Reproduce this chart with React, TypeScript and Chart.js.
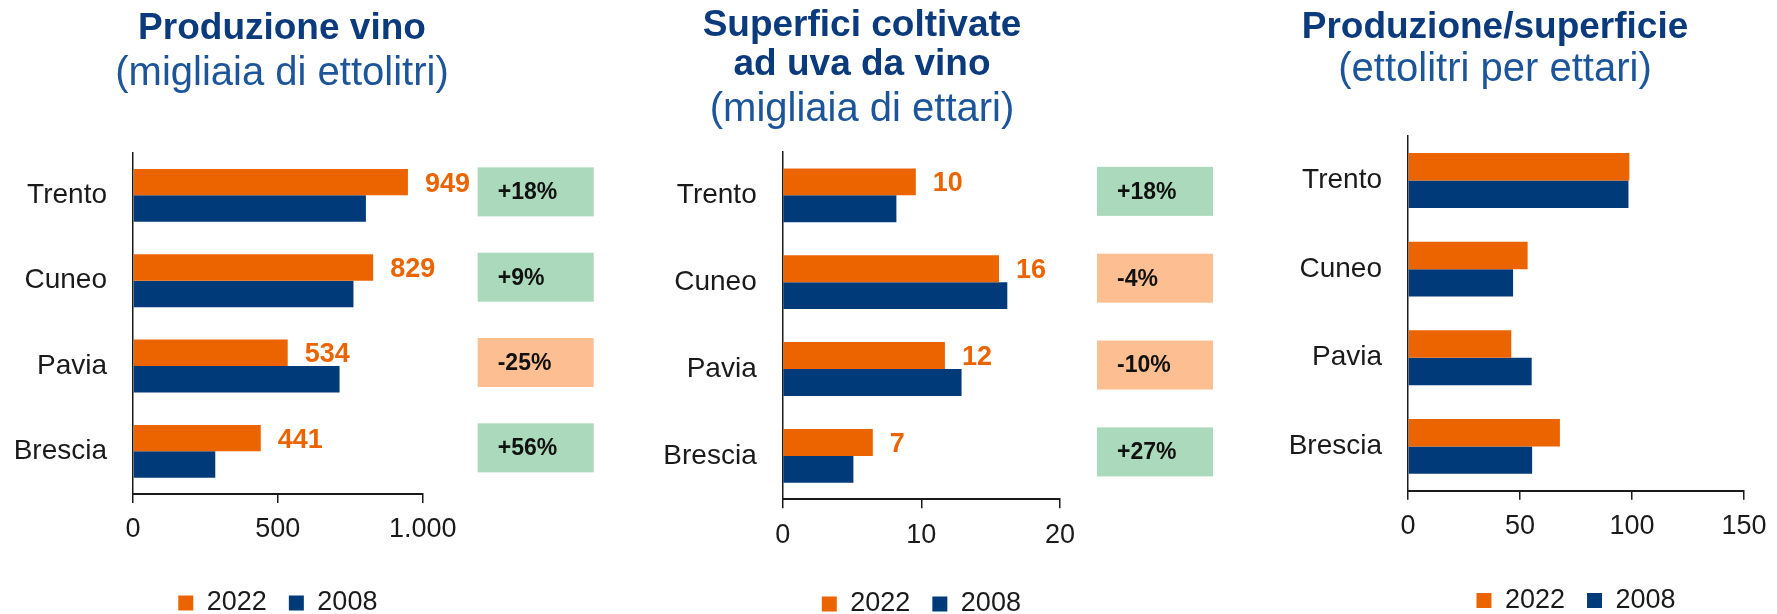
import React, { useEffect, useRef } from 'react';
import { Chart, registerables } from 'chart.js';

Chart.register(...registerables);

// ---------- data ----------
const categories = ['Trento', 'Cuneo', 'Pavia', 'Brescia'];
const seriesNames = ['2022', '2008'];

const prodTitle = ['Produzione vino'];
const prodSubtitle = '(migliaia di ettolitri)';
const prod2022 = [949, 829, 534, 441];
const prod2008 = [804, 761, 713, 284];
const prodChange = ['+18%', '+9%', '-25%', '+56%'];
const prodTicks = [0, 500, 1000];

const areaTitle = ['Superfici coltivate', 'ad uva da vino'];
const areaSubtitle = '(migliaia di ettari)';
const area2022 = [9.6, 15.6, 11.7, 6.5];
const area2008 = [8.2, 16.2, 12.9, 5.1];
const areaChange = ['+18%', '-4%', '-10%', '+27%'];
const areaTicks = [0, 10, 20];

const yieldTitle = ['Produzione/superficie'];
const yieldSubtitle = '(ettolitri per ettari)';
const yield2022 = [98.8, 53.4, 46.1, 67.8];
const yield2008 = [98.4, 46.9, 55.2, 55.4];
const yieldTicks = [0, 50, 100, 150];

// ---------- styles ----------
const FONT = '"Liberation Sans", Arial, sans-serif';
const ORANGE = '#EC6400';
const NAVY = '#003A78';
const TITLE = '#0B3B7C';
const SUBTITLE = '#1D559A';
const TEXT = '#1A1A1A';
const AXIS = '#1A1A1A';
const BOX_POS = '#AAD9BB';
const BOX_NEG = '#FDBF91';

const fmtThousands = (v: number) =>
  String(v).replace(/\B(?=(\d{3})+(?!\d))/g, '.');

const annotPlugin = {
  id: 'annot',
  afterDatasetsDraw(chart: any, _args: any, opts: any) {
    if (!opts || !opts.show) return;
    const ctx = chart.ctx;
    ctx.save();
    ctx.textAlign = 'left';
    ctx.textBaseline = 'middle';
    // value labels for first dataset
    const meta = chart.getDatasetMeta(0);
    ctx.font = `bold 27px ${FONT}`;
    ctx.fillStyle = ORANGE;
    meta.data.forEach((bar: any, i: number) => {
      const v = chart.data.datasets[0].data[i];
      ctx.fillText(String(Math.round(v)), bar.x + 17, bar.y + 2);
    });
    // change boxes
    const yScale = chart.scales.y;
    const changes: string[] = opts.changes || [];
    changes.forEach((c, i) => {
      const cy = yScale.getPixelForValue(i) + opts.boxDy;
      const x0 = chart.chartArea.right + opts.boxDx;
      ctx.fillStyle = c.startsWith('-') ? BOX_NEG : BOX_POS;
      ctx.fillRect(x0, cy - 24.5, 116, 49);
      ctx.fillStyle = '#111111';
      ctx.font = `bold 23px ${FONT}`;
      ctx.fillText(c, x0 + 20, cy + 1);
    });
    ctx.restore();
  },
};

interface PanelSpec {
  left: number;
  width: number;
  height: number;
  title: string[];
  subtitle: string;
  a: number[];
  b: number[];
  ticks: number[];
  yW: number;
  rW: number;
  xH: number;
  tickPad: number;
  padBottom: number;
  titleTop: number;
  subTop: number;
  subBottom: number;
  changes?: string[];
  boxDx?: number;
  boxDy?: number;
}

function Panel({ spec }: { spec: PanelSpec }) {
  const ref = useRef<HTMLCanvasElement | null>(null);
  useEffect(() => {
    if (!ref.current) return;
    const s = spec;
    const chart = new Chart(ref.current, {
      type: 'bar',
      data: {
        labels: categories,
        datasets: [
          {
            label: seriesNames[0],
            data: s.a,
            backgroundColor: ORANGE,
            borderWidth: 0,
            categoryPercentage: 0.62,
            barPercentage: 1,
            xAxisID: 'x',
            yAxisID: 'y',
          },
          {
            label: seriesNames[1],
            data: s.b,
            backgroundColor: NAVY,
            borderWidth: 0,
            categoryPercentage: 0.62,
            barPercentage: 1,
            xAxisID: 'x',
            yAxisID: 'y',
          },
        ],
      },
      options: {
        indexAxis: 'y',
        responsive: false,
        maintainAspectRatio: false,
        animation: false,
        events: [],
        layout: { padding: { left: 0, right: 0, top: 0, bottom: s.padBottom } },
        scales: {
          x: {
            type: 'linear',
            min: s.ticks[0],
            max: s.ticks[s.ticks.length - 1],
            afterBuildTicks: (scale: any) => {
              scale.ticks = s.ticks.map((v) => ({ value: v }));
            },
            ticks: {
              padding: s.tickPad,
              color: TEXT,
              font: { family: FONT, size: 27 },
              callback: (v: any) => fmtThousands(Number(v)),
            },
            grid: {
              drawOnChartArea: false,
              drawTicks: true,
              tickLength: 9,
              color: AXIS,
              lineWidth: 1.5,
            },
            border: { display: true, color: AXIS, width: 2 },
            afterFit: (scale: any) => {
              scale.height = s.xH;
            },
          },
          y: {
            type: 'category',
            position: 'left',
            ticks: { padding: 26, color: TEXT, font: { family: FONT, size: 28 } },
            grid: { display: false, drawTicks: false },
            border: { display: true, color: AXIS, width: 1.5 },
            afterFit: (scale: any) => {
              scale.width = s.yW;
            },
          },
          yR: {
            type: 'category',
            axis: 'y',
            position: 'right',
            display: true,
            ticks: { display: false },
            grid: { display: false, drawTicks: false },
            border: { display: false },
            afterFit: (scale: any) => {
              scale.width = s.rW;
            },
          },
        },
        plugins: {
          title: {
            display: true,
            text: s.title,
            color: TITLE,
            font: { family: FONT, size: 37, weight: 'bold', lineHeight: 1.057 },
            padding: { top: s.titleTop, bottom: 0 },
          },
          subtitle: {
            display: true,
            text: s.subtitle,
            color: SUBTITLE,
            font: { family: FONT, size: 40, weight: 'normal', lineHeight: 1.1 },
            padding: { top: s.subTop, bottom: s.subBottom },
          },
          legend: {
            display: true,
            position: 'bottom',
            fullSize: false,
            labels: {
              boxWidth: 15,
              boxHeight: 15,
              padding: 22,
              color: TEXT,
              font: { family: FONT, size: 27 },
            },
          },
          tooltip: { enabled: false },
          annot: {
            show: !!s.changes,
            changes: s.changes,
            boxDx: s.boxDx,
            boxDy: s.boxDy,
          },
        } as any,
      },
      plugins: [annotPlugin],
    } as any);
    return () => chart.destroy();
  }, [spec]);
  return (
    <canvas
      ref={ref}
      width={spec.width}
      height={spec.height}
      style={{
        position: 'absolute',
        left: spec.left,
        top: 0,
        width: spec.width,
        height: spec.height,
      }}
    />
  );
}

const panels: PanelSpec[] = [
  {
    left: -40, width: 644, height: 640,
    title: prodTitle, subtitle: prodSubtitle, a: prod2022, b: prod2008, ticks: prodTicks,
    yW: 173, rW: 181.3, xH: 73.5, tickPad: 10.8, padBottom: 13.5,
    titleTop: 9.65, subTop: 3.65, subBottom: 56.3,
    changes: prodChange, boxDx: 55, boxDy: -3.5,
  },
  {
    left: 502, width: 720, height: 640,
    title: areaTitle, subtitle: areaSubtitle, a: area2022, b: area2008, ticks: areaTicks,
    yW: 280.7, rW: 162, xH: 69.2, tickPad: 11.3, padBottom: 12.5,
    titleTop: 5.75, subTop: 3.65, subBottom: 20.3,
    changes: areaChange, boxDx: 37, boxDy: -4,
  },
  {
    left: 1213, width: 564, height: 640,
    title: yieldTitle, subtitle: yieldSubtitle, a: yield2022, b: yield2008, ticks: yieldTicks,
    yW: 195, rW: 27.7, xH: 74.3, tickPad: 10.4, padBottom: 16,
    titleTop: 7.75, subTop: 1.55, subBottom: 43.8,
  },
];

export default function App() {
  return (
    <div
      style={{
        position: 'fixed',
        left: 0,
        top: 0,
        width: 1777,
        height: 614,
        overflow: 'hidden',
        background: '#ffffff',
      }}
    >
      {panels.map((p, i) => (
        <Panel key={i} spec={p} />
      ))}
    </div>
  );
}
